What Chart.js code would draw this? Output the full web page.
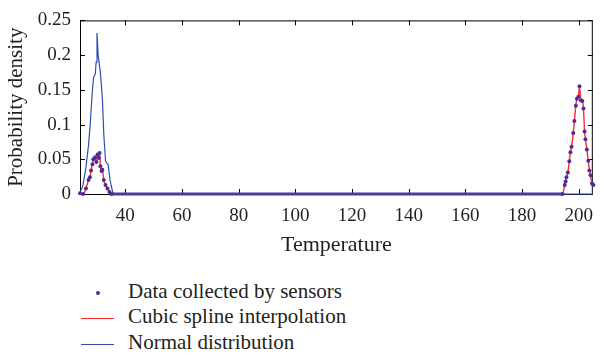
<!DOCTYPE html>
<html>
<head>
<meta charset="utf-8">
<script src="https://cdn.jsdelivr.net/npm/chart.js@4/dist/chart.umd.min.js"></script>
<style>
  body { margin: 0; background: #fff; width: 604px; height: 355px; overflow: hidden; position: relative; font-family: 'Liberation Serif', serif; color: #231f20; }
  #wrap { position: absolute; left: 0; top: 0; width: 604px; height: 262px; }
  .leg { position: absolute; left: 0; font-size: 21px; line-height: 21px; }
  .leg span { position: absolute; left: 128px; top: -12px; white-space: nowrap; }
  .dot { position: absolute; left: 96px; top: -2px; width: 4px; height: 4px; border-radius: 50%; background: #4b2e9a; }
  .ln { position: absolute; left: 81px; top: 0; width: 33px; height: 1px; }
</style>
</head>
<body>
<div id="wrap"><canvas id="chart" width="604" height="262"></canvas></div>
<div class="leg" style="top:293px"><div class="dot"></div><span>Data collected by sensors</span></div>
<div class="leg" style="top:318px"><div class="ln" style="background:#ff2a2a"></div><span>Cubic spline interpolation</span></div>
<div class="leg" style="top:344px"><div class="ln" style="background:#2f4fb0"></div><span>Normal distribution</span></div>
<script>
// sensor readings (temperature, density) - the spline goes through the same points
const sensorTemps = [24, 25.1, 26.1, 27, 27.5, 27.9, 28.4, 28.7, 29.3, 29.8, 30.2, 30.7, 30.9, 31.2, 31.6, 31.9, 32.4, 33, 33.7, 34.4, 35.1,
  194.3, 195.1, 195.4, 195.7, 196.2, 196.7, 197.1, 197.5, 198.1, 198.5, 199, 199.4, 199.9, 200.3, 200.8, 201.3, 201.7, 202.1, 202.4, 202.9, 203.4, 203.8, 204.2, 204.7, 205.2]
const sensorDensity = [0.001, 0, 0.008, 0.02, 0.024, 0.034, 0.043, 0.05, 0.053, 0.046, 0.057, 0.052, 0.059, 0.04, 0.033, 0.035, 0.02, 0.013, 0.008, 0.003, 0,
  0, 0.013, 0.018, 0.024, 0.031, 0.047, 0.06, 0.068, 0.088, 0.105, 0.127, 0.137, 0.14, 0.155, 0.135, 0.134, 0.123, 0.09, 0.079, 0.064, 0.048, 0.034, 0.027, 0.015, 0.013]

const normalTemps = [24, 25, 26, 27, 27.6, 28.3, 28.8, 29.4, 29.7, 30, 30.4, 30.8, 31.2, 31.9, 32.4, 33, 33.5, 33.9, 34.6, 35.5, 36.1, 205]
const normalDensity = [0.002, 0.012, 0.035, 0.07, 0.1, 0.145, 0.168, 0.173, 0.19, 0.232, 0.2, 0.187, 0.175, 0.137, 0.086, 0.048, 0.044, 0.043, 0.02, 0.003, 0, 0]

const xTicks = [40, 60, 80, 100, 120, 140, 160, 180, 200]
const yTicks = [0, 0.05, 0.1, 0.15, 0.2, 0.25]

const sensorPts = sensorTemps.map((t, i) => ({ x: t, y: sensorDensity[i] }))
const normalPts = normalTemps.map((t, i) => ({ x: t, y: normalDensity[i] }))

const ink = '#231f20'
const serif = "'Liberation Serif', serif"

// box frame with inward tick marks like the original figure
const framePlugin = {
  id: 'frame',
  beforeDatasetsDraw(chart) {
    const { ctx, chartArea: a, scales } = chart
    ctx.save()
    ctx.strokeStyle = '#000'
    ctx.lineWidth = 1
    ctx.strokeRect(a.left + 0.5, a.top + 0.5, a.right - a.left - 1, a.bottom - a.top)
    ctx.beginPath()
    for (const v of xTicks) {
      const px = Math.round(scales.x.getPixelForValue(v)) + 0.5
      ctx.moveTo(px, a.bottom); ctx.lineTo(px, a.bottom - 5)
      ctx.moveTo(px, a.top); ctx.lineTo(px, a.top + 5)
    }
    for (const v of yTicks) {
      const py = Math.round(scales.y.getPixelForValue(v)) + 0.5
      ctx.moveTo(a.left, py); ctx.lineTo(a.left + 5, py)
      ctx.moveTo(a.right, py); ctx.lineTo(a.right - 5, py)
    }
    ctx.stroke()
    ctx.restore()
  }
}

new Chart(document.getElementById('chart'), {
  type: 'scatter',
  data: {
    datasets: [
      { label: 'Data collected by sensors', data: sensorPts, showLine: false, pointRadius: 2, pointBorderWidth: 0,
        pointBackgroundColor: '#4b2e9a', order: 0, clip: 4 },
      { label: 'Cubic spline interpolation', data: sensorPts, showLine: true, pointRadius: 0, borderColor: '#ff2a2a', borderWidth: 1.4,
        cubicInterpolationMode: 'monotone', order: 1, clip: 4,
        // long flat stretch is covered densely by sensor dots, so it reads as a thick purple band
        segment: {
          borderColor: c => (c.p0.parsed.y === 0 && c.p1.parsed.y === 0) ? '#4a3a9e' : undefined,
          borderWidth: c => (c.p0.parsed.y === 0 && c.p1.parsed.y === 0) ? 3 : undefined
        } },
      { label: 'Normal distribution', data: normalPts, showLine: true, pointRadius: 0, borderColor: '#2f4fb0', borderWidth: 1.2,
        tension: 0, order: 2, clip: 4 }
    ]
  },
  options: {
    responsive: false,
    animation: false,
    layout: { padding: { top: 17, right: 1, left: 0, bottom: 0 } },
    plugins: { legend: { display: false }, tooltip: { enabled: false } },
    scales: {
      x: {
        type: 'linear', min: 24, max: 205,
        afterBuildTicks: s => { s.ticks = xTicks.map(v => ({ value: v })) },
        afterFit: s => { s.height = 68 },
        grid: { display: false, drawTicks: false },
        border: { display: false },
        ticks: { color: ink, padding: 11, font: { family: serif, size: 19 }, maxRotation: 0 },
        title: { display: true, text: 'Temperature', color: ink, font: { family: serif, size: 22 }, padding: { top: 0, bottom: 4 } }
      },
      y: {
        min: 0, max: 0.25,
        afterBuildTicks: s => { s.ticks = yTicks.map(v => ({ value: v })) },
        afterFit: s => { s.width = 80 },
        grid: { display: false, drawTicks: false },
        border: { display: false },
        ticks: { color: ink, padding: 9, font: { family: serif, size: 19 }, callback: v => String(+v.toFixed(2)) },
        title: { display: true, text: 'Probability density', color: ink, font: { family: serif, size: 21 }, padding: { top: 4, bottom: 0 } }
      }
    }
  },
  plugins: [framePlugin]
})
</script>
</body>
</html>
